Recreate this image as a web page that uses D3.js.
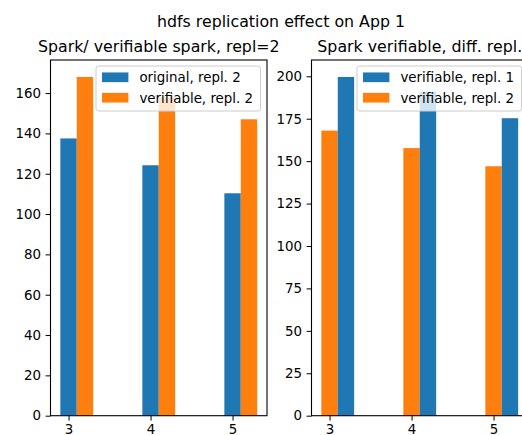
<!DOCTYPE html>
<html>
<head>
<meta charset="utf-8">
<script src="https://cdn.jsdelivr.net/npm/d3@7"></script>
<style>
  body { margin: 0; background: #fff; }
  svg { display: block; font-family: "DejaVu Sans", sans-serif; }
</style>
</head>
<body>
<div id="chart-container"></div>
<script>
// values
const groups = [3, 4, 5];
const originalRepl2 = [137.5, 124.2, 110.3];
const verifiableRepl2 = [168, 157.7, 147];
const verifiableRepl1 = [199.6, 191, 175.3];
const leftTicks = [0, 20, 40, 60, 80, 100, 120, 140, 160];
const rightTicks = [0, 25, 50, 75, 100, 125, 150, 175, 200];
const suptitle = "hdfs replication effect on App 1";

const blue = "#1f77b4", orange = "#ff7f0e";

let svg = d3.select("#chart-container").append("svg")
    .attr("width", 522).attr("height", 435);

let axTop = 60, axBottom = 415.7, axW = 216.5, fs = 13.4;

svg.append("text")
    .attr("x", 281).attr("y", 27)
    .attr("text-anchor", "middle")
    .attr("font-size", 15.8)
    .text(suptitle);

function panel(left, title, yMax, ticks, series, labels) {
    let x = d3.scaleLinear().domain([2.78, 5.42]).range([left, left + axW]),
        y = d3.scaleLinear().domain([0, yMax]).range([axBottom, axTop]),
        g = svg.append("g");

    // bars: first series centred on the tick, second one just right of it
    series.forEach((s, i) => {
        g.selectAll(null).data(groups).enter().append("rect")
            .attr("x", (d) => x(d - 0.1 + 0.2 * i))
            .attr("width", x(3.2) - x(3))
            .attr("y", (d, j) => y(s.values[j]))
            .attr("height", (d, j) => y(0) - y(s.values[j]))
            .attr("fill", s.color);
    });

    g.append("g")
        .attr("transform", `translate(${left},0)`)
        .call(d3.axisLeft(y).tickValues(ticks).tickSize(4.9).tickPadding(4.5).tickFormat(d3.format("d")))
        .call(a => a.select(".domain").remove())
        .call(a => a.selectAll("text").attr("font-size", fs).attr("fill", "#000").attr("font-family", "DejaVu Sans"));

    g.append("g")
        .attr("transform", `translate(0,${axBottom})`)
        .call(d3.axisBottom(x).tickValues(groups).tickSize(4.9).tickPadding(3.4).tickFormat(d3.format("d")))
        .call(a => a.select(".domain").remove())
        .call(a => a.selectAll("text").attr("font-size", fs).attr("fill", "#000").attr("font-family", "DejaVu Sans"));

    g.append("rect")
        .attr("x", left).attr("y", axTop)
        .attr("width", axW).attr("height", axBottom - axTop)
        .attr("fill", "none").attr("stroke", "#000").attr("stroke-width", 1.1);

    svg.append("text")
        .attr("x", left + axW / 2).attr("y", 52)
        .attr("text-anchor", "middle")
        .attr("font-size", 15.8)
        .text(title);

    // legend, upper right
    let lg = svg.append("g"),
        box = lg.append("rect"),
        widest = 0;
    labels.forEach((l, i) => {
        let cy = 11.3 + i * 20.4;
        lg.append("rect")
            .attr("x", 6).attr("y", cy - 4.85)
            .attr("width", 26.4).attr("height", 9.7)
            .attr("fill", l.color);
        let t = lg.append("text")
            .attr("x", 43.4).attr("y", cy).attr("dy", "0.36em")
            .attr("font-size", fs)
            .text(l.label);
        widest = Math.max(widest, t.node().getComputedTextLength());
    });
    let w = 43.4 + widest + 7.4;
    box.attr("width", w).attr("height", 45)
        .attr("rx", 2.5)
        .attr("fill", "#fff").attr("fill-opacity", 0.8)
        .attr("stroke", "#cccccc").attr("stroke-width", 1);
    lg.attr("transform", `translate(${left + axW - 6.5 - w},66)`);
}

panel(50.5, "Spark/ verifiable spark, repl=2", 176.4, leftTicks,
    [{ values: originalRepl2, color: blue }, { values: verifiableRepl2, color: orange }],
    [{ label: "original, repl. 2", color: blue }, { label: "verifiable, repl. 2", color: orange }]);

panel(311.5, "Spark verifiable, diff. repl.", 209.6, rightTicks,
    [{ values: verifiableRepl2, color: orange }, { values: verifiableRepl1, color: blue }],
    [{ label: "verifiable, repl. 1", color: blue }, { label: "verifiable, repl. 2", color: orange }]);
</script>
</body>
</html>
